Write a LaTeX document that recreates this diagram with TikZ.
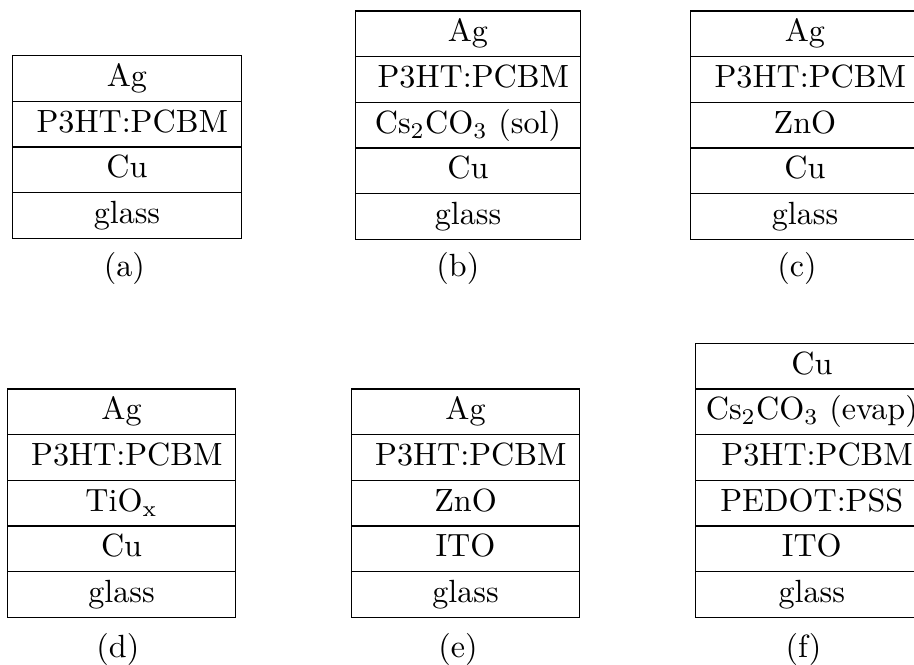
\documentclass[tikz,border=0pt]{standalone}
\usepackage{amsmath}
\usepackage{tikz}

\tikzset{
  layer/.style={draw, minimum width=#1, minimum height=0.5cm, inner sep=0pt,
    outer sep=0pt, text height=7pt, text depth=2pt, anchor=north},
  layer/.default=2.5cm,
  caption/.style={inner sep=0pt}
}

\begin{document}
\begin{tikzpicture}
  \useasboundingbox (0,0) rectangle (10,7.265);

  % (a)
  \node [layer, anchor=north west] (a1) at (0.139,6.656) {Ag};
  \node [layer] (a2) at (a1.south) {\ P3HT:PCBM};
  \node [layer] (a3) at (a2.south) {Cu};
  \node [layer] (a4) at (a3.south) {glass};
  \node [caption] (la) at (1.36,4.33) {(a)};

  % (b)
  \node [layer=2.46cm, anchor=north west] (b1) at (3.89,7.145) {Ag};
  \node [layer=2.46cm] (b2) at (b1.south) {\ P3HT:PCBM};
  \node [layer=2.46cm] (b3) at (b2.south) {Cs$_2$CO$_3$ (sol)};
  \node [layer=2.46cm] (b4) at (b3.south) {Cu};
  \node [layer=2.46cm] (b5) at (b4.south) {glass};
  \node [caption] (lb) at (5.01,4.33) {(b)};

  % (c)
  \node [layer, anchor=north west] (c1) at (7.557,7.145) {Ag};
  \node [layer] (c2) at (c1.south) {\ P3HT:PCBM};
  \node [layer] (c3) at (c2.south) {ZnO};
  \node [layer] (c4) at (c3.south) {Cu};
  \node [layer] (c5) at (c4.south) {glass};
  \node [caption] (lc) at (8.72,4.33) {(c)};

  % (d)
  \node [layer, anchor=north west] (d1) at (0.080,3.009) {Ag};
  \node [layer] (d2) at (d1.south) {\ P3HT:PCBM};
  \node [layer] (d3) at (d2.south) {TiO$_{\mathrm{x}}$};
  \node [layer] (d4) at (d3.south) {Cu};
  \node [layer] (d5) at (d4.south) {glass};
  \node [caption] (ld) at (1.29,0.16) {(d)};

  % (e)
  \node [layer=2.49cm, anchor=north west] (e1) at (3.848,3.009) {Ag};
  \node [layer=2.49cm] (e2) at (e1.south) {\ P3HT:PCBM};
  \node [layer=2.49cm] (e3) at (e2.south) {ZnO};
  \node [layer=2.49cm] (e4) at (e3.south) {ITO};
  \node [layer=2.49cm] (e5) at (e4.south) {glass};
  \node [caption] (le) at (5.01,0.16) {(e)};

  % (f)
  \node [layer=2.54cm, anchor=north west] (f1) at (7.612,3.509) {Cu};
  \node [layer=2.54cm] (f2) at (f1.south) {Cs$_2$CO$_3$ (evap)};
  \node [layer=2.54cm] (f3) at (f2.south) {\ P3HT:PCBM};
  \node [layer=2.54cm] (f4) at (f3.south) {PEDOT:PSS};
  \node [layer=2.54cm] (f5) at (f4.south) {ITO};
  \node [layer=2.54cm] (f6) at (f5.south) {glass};
  \node [caption] (lf) at (8.79,0.16) {(f)};
\end{tikzpicture}
\end{document}
